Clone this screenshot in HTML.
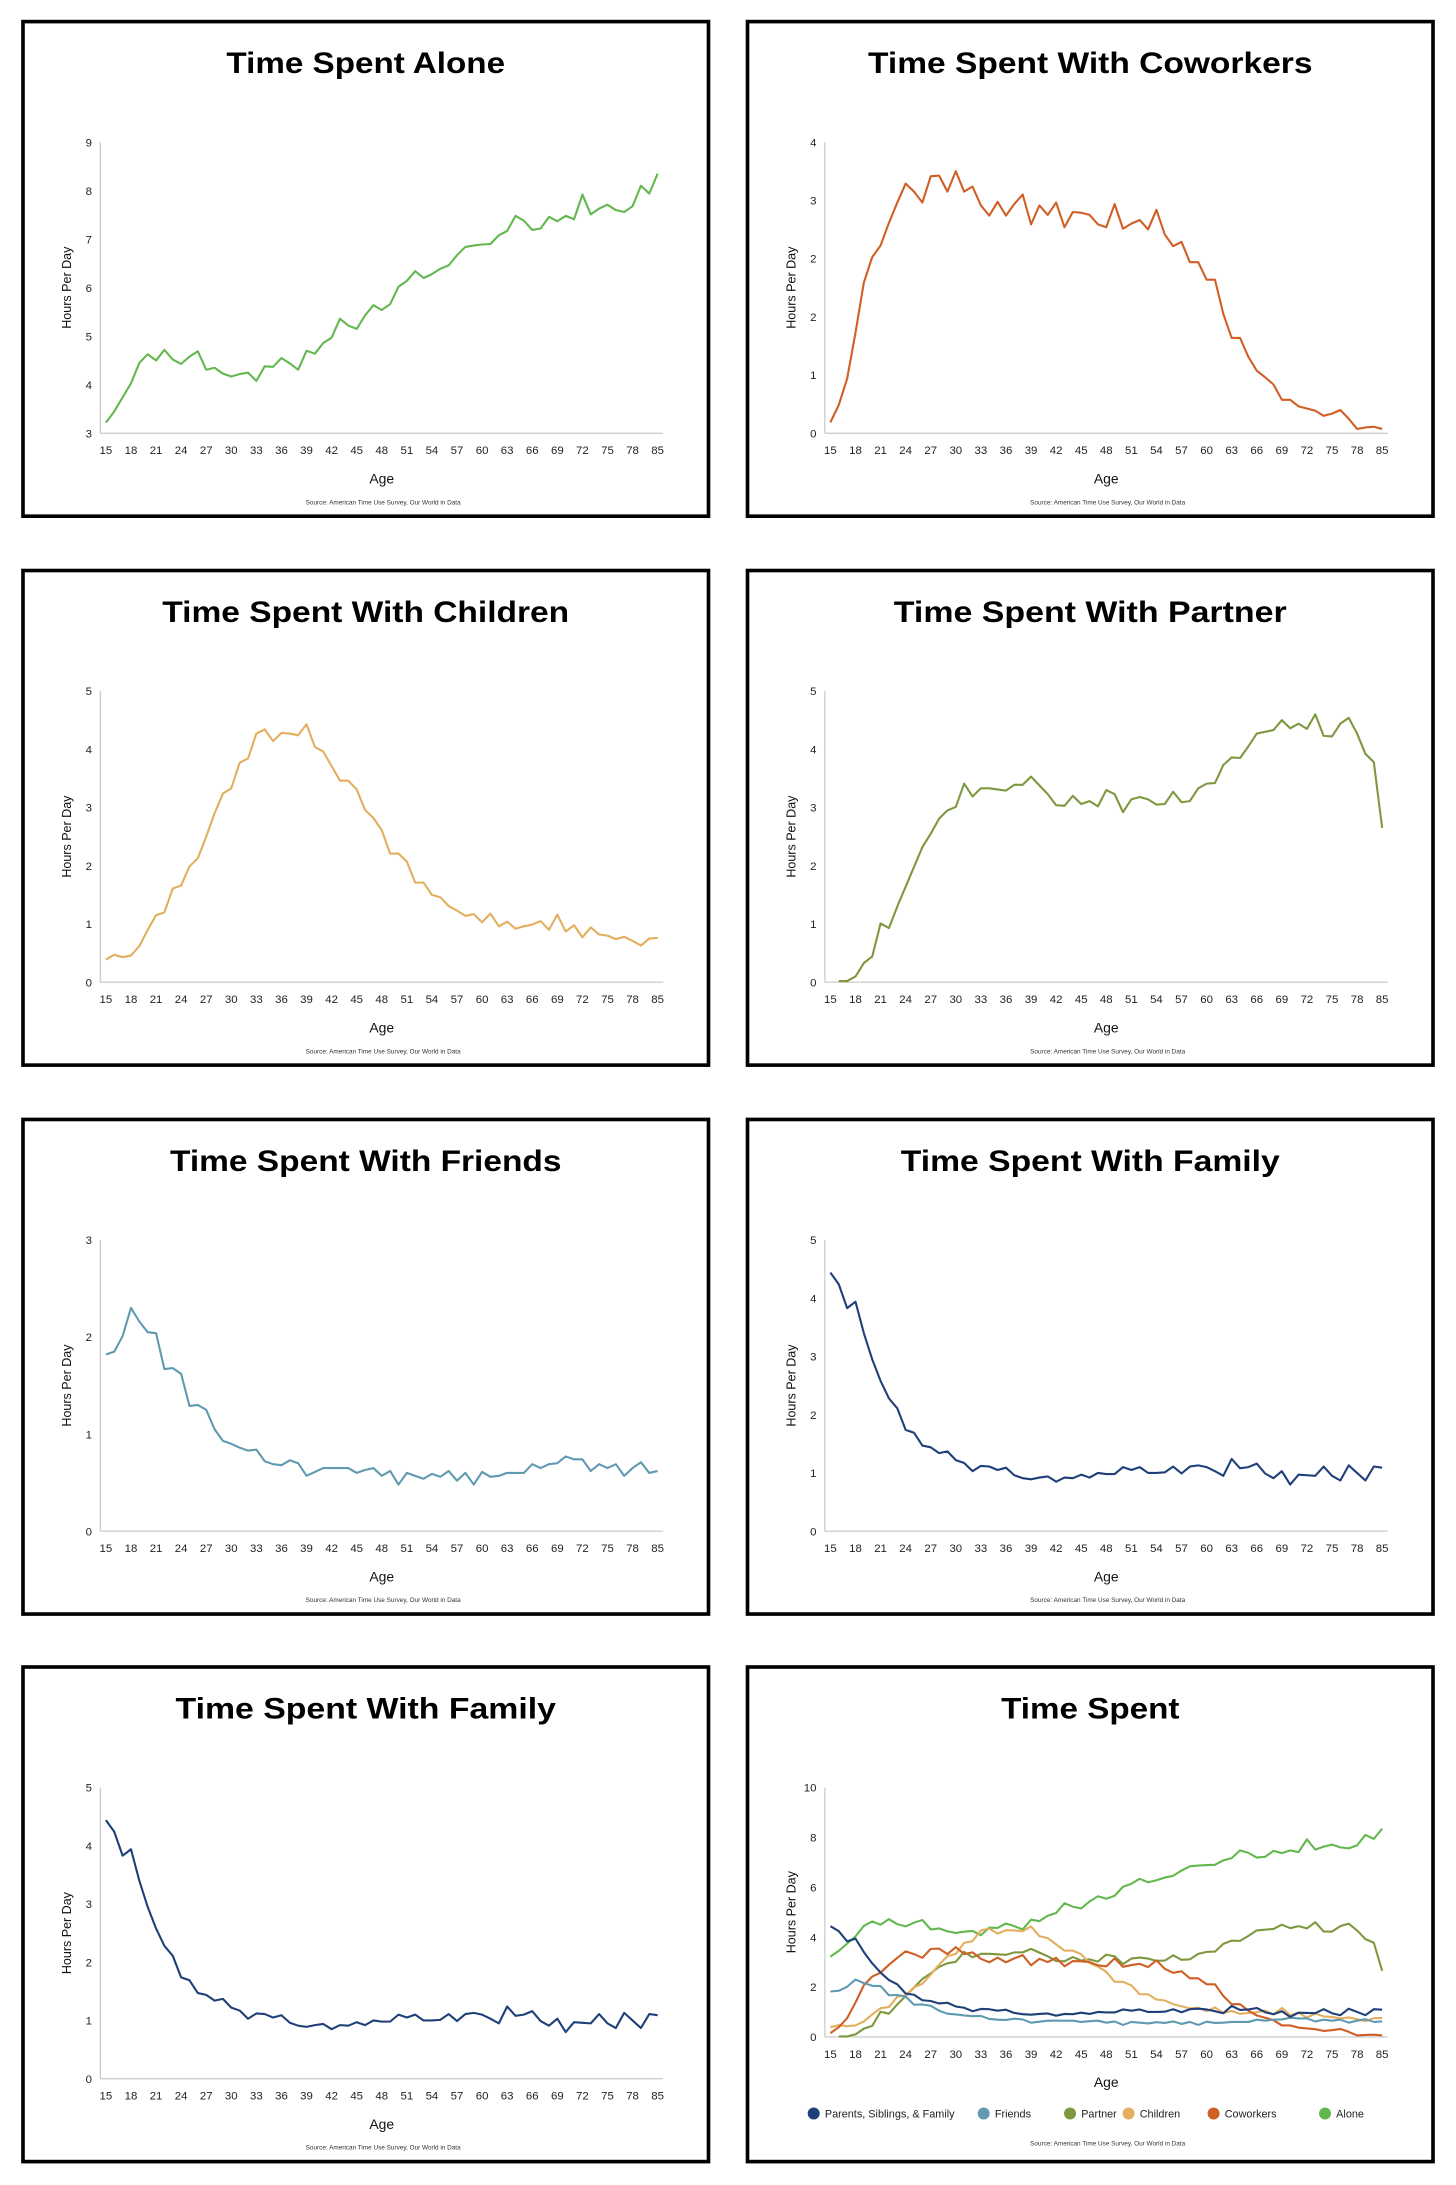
<!DOCTYPE html>
<html><head><meta charset="utf-8"><style>
html,body{margin:0;padding:0;background:#fff;}
svg{display:block;}
text{font-family:"Liberation Sans",Arial,sans-serif;}
</style></head><body>
<svg id="root" width="1456" height="2185" viewBox="0 0 1045 1568.3" preserveAspectRatio="none" xmlns="http://www.w3.org/2000/svg"></svg>
<script>
const categories=[];for(let a=15;a<=80;a++)categories.push(a);categories.push(85);
const tickEvery=3;
const aloneValues=[3.22,3.45,3.74,4.03,4.45,4.63,4.5,4.72,4.52,4.43,4.58,4.69,4.31,4.35,4.23,4.17,4.22,4.25,4.08,4.38,4.37,4.55,4.44,4.31,4.7,4.64,4.86,4.97,5.36,5.22,5.15,5.43,5.64,5.54,5.66,6.02,6.14,6.34,6.2,6.28,6.39,6.46,6.67,6.84,6.87,6.89,6.9,7.08,7.17,7.48,7.38,7.19,7.22,7.46,7.37,7.48,7.41,7.92,7.51,7.63,7.71,7.6,7.56,7.68,8.1,7.94,8.35];
const coworkerValues=[0.15,0.39,0.75,1.38,2.07,2.42,2.58,2.89,3.17,3.43,3.32,3.17,3.53,3.54,3.32,3.6,3.32,3.39,3.13,2.99,3.18,2.99,3.15,3.28,2.87,3.13,3.0,3.17,2.83,3.04,3.03,3.0,2.87,2.83,3.15,2.81,2.88,2.93,2.8,3.07,2.73,2.57,2.63,2.35,2.35,2.11,2.11,1.64,1.31,1.31,1.05,0.86,0.77,0.67,0.46,0.46,0.37,0.34,0.31,0.24,0.27,0.32,0.2,0.06,0.08,0.09,0.06];
const childrenValues=[0.39,0.47,0.43,0.46,0.62,0.9,1.15,1.2,1.61,1.66,1.99,2.13,2.5,2.9,3.24,3.33,3.77,3.84,4.27,4.34,4.14,4.28,4.27,4.24,4.43,4.04,3.96,3.71,3.46,3.46,3.31,2.96,2.82,2.61,2.21,2.21,2.07,1.71,1.71,1.5,1.46,1.31,1.23,1.14,1.17,1.03,1.18,0.96,1.04,0.92,0.96,0.99,1.05,0.9,1.16,0.87,0.98,0.77,0.94,0.82,0.8,0.74,0.78,0.71,0.63,0.75,0.76];
const partnerValues=[null,0.02,0.02,0.1,0.33,0.44,1.01,0.93,1.3,1.64,1.98,2.32,2.55,2.81,2.95,3.01,3.41,3.19,3.33,3.33,3.31,3.29,3.39,3.39,3.53,3.38,3.23,3.04,3.03,3.2,3.06,3.11,3.02,3.3,3.23,2.92,3.14,3.18,3.14,3.05,3.06,3.27,3.09,3.11,3.33,3.41,3.42,3.73,3.86,3.85,4.05,4.27,4.3,4.33,4.5,4.36,4.44,4.35,4.6,4.23,4.22,4.44,4.54,4.27,3.92,3.78,2.65];
const friendsValues=[1.82,1.85,2.01,2.3,2.16,2.05,2.04,1.67,1.68,1.62,1.29,1.3,1.25,1.05,0.93,0.9,0.86,0.83,0.84,0.72,0.69,0.68,0.73,0.7,0.57,0.61,0.65,0.65,0.65,0.65,0.6,0.63,0.65,0.57,0.62,0.48,0.6,0.57,0.54,0.59,0.56,0.62,0.52,0.6,0.48,0.61,0.56,0.57,0.6,0.6,0.6,0.69,0.65,0.69,0.7,0.77,0.74,0.74,0.62,0.69,0.65,0.69,0.57,0.65,0.71,0.6,0.62];
const familyValues=[4.44,4.24,3.83,3.94,3.4,2.95,2.58,2.28,2.11,1.74,1.69,1.47,1.44,1.34,1.37,1.22,1.17,1.03,1.12,1.11,1.05,1.09,0.96,0.91,0.89,0.92,0.94,0.85,0.92,0.91,0.97,0.92,1.0,0.98,0.98,1.1,1.05,1.1,1.0,1.0,1.01,1.11,0.99,1.11,1.13,1.1,1.03,0.95,1.24,1.08,1.1,1.16,0.99,0.91,1.03,0.8,0.97,0.96,0.95,1.11,0.95,0.87,1.13,1.0,0.87,1.11,1.09];
const aloneTicks=["3","4","5","6","7","8","9"];
const coworkerTicks=["0","1","2","2","3","4"];
const fiveTicks=["0","1","2","3","4","5"];
const friendsTicks=["0","1","2","3"];
const combinedTicks=["0","2","4","6","8","10"];
const legendLabels=["Parents, Siblings, & Family","Friends","Partner","Children","Coworkers","Alone"];

const C={alone:"#62b84f",cow:"#cf5f24",child:"#e3af5e",partner:"#7d983e",friends:"#5f9ab1",family:"#1f3f79"};
const NS="http://www.w3.org/2000/svg";
const root=document.getElementById('root');
function mk(tag,attrs,parent,txt){const e=document.createElementNS(NS,tag);for(const k in attrs)e.setAttribute(k,attrs[k]);if(txt!==undefined)e.textContent=txt;(parent||root).appendChild(e);return e;}

function panel(px,py,title,titleLen,ticks,ymin,ymax,series,name,combined){
  const g=mk('g',{transform:`translate(${px},${py})`});
  
  
  const box=mk('rect',{x:1.5,y:1.5,width:492,height:355,fill:'#fff',stroke:'#000','stroke-width':2.6},g);
  
  
  const t=mk('text',{x:247.5,y:38.5,'text-anchor':'middle','font-size':21.5,'font-weight':'bold',fill:'#000',textLength:titleLen,lengthAdjust:'spacingAndGlyphs'},g,title);
  
  
  const top=88,bot=combined?267:297,x0=61,x1=457;
  const ys=v=>bot-(v-ymin)/(ymax-ymin)*(bot-top);
  const xs=i=>x0+i*(x1-x0)/(categories.length-1);
  const ax=mk('line',{x1:57,y1:top,x2:57,y2:bot,stroke:'#cfcfcf','stroke-width':1},g);
  
  
  const bx=mk('line',{x1:57,y1:bot,x2:461,y2:bot,stroke:'#cfcfcf','stroke-width':1},g);
  
  
  ticks.forEach((lab,k)=>{
    const y=bot-k*(bot-top)/(ticks.length-1);
    const tl=mk('text',{x:51,y:y+3,'text-anchor':'end','font-size':8.2,fill:'#222'},g,lab);
    
    
  });
  categories.forEach((c,i)=>{
    if(i%tickEvery!==0)return;
    const tl=mk('text',{x:xs(i),y:bot+15,'text-anchor':'middle','font-size':8.2,fill:'#222'},g,String(c));
    
    
  });
  const yt=mk('text',{transform:`translate(36,${(top+bot)/2}) rotate(-90)`,'text-anchor':'middle','font-size':9,fill:'#111'},g,'Hours Per Day');
  
  
  const xt=mk('text',{x:259,y:bot+36,'text-anchor':'middle','font-size':10,fill:'#111'},g,'Age');
  
  
  const src=mk('text',{x:260,y:combined?345:348,'text-anchor':'middle','font-size':4.6,fill:'#333'},g,'Source: American Time Use Survey, Our World in Data');
  
  
  series.forEach(s=>{
    let d='';let pen=false;
    s.values.forEach((v,i)=>{if(v===null||v===undefined){pen=false;return;}d+=(pen?'L':'M')+xs(i).toFixed(2)+','+ys(v).toFixed(2);pen=true;});
    const p=mk('path',{d:d,fill:'none',stroke:s.color,'stroke-width':1.5,'stroke-linejoin':'round'},g);
    
    
  });
  if(combined){
    const lx=[49,171,233,275,336,416];
    const cols=[C.family,C.friends,C.partner,C.child,C.cow,C.alone];
    legendLabels.forEach((lab,k)=>{
      const lg=mk('g',{},g);
      
      
      mk('circle',{cx:lx[k],cy:322,r:4.3,fill:cols[k]},lg);
      mk('text',{x:lx[k]+8,y:325,'font-size':7.8,fill:'#222'},lg,lab);
    });
  }
}
const L=15,R=535,rows=[14,408,802,1195];
panel(L,rows[0],'Time Spent Alone',200,aloneTicks,3,9,[{values:aloneValues,color:C.alone,name:'alone-line'}],'alone-chart');
panel(R,rows[0],'Time Spent With Coworkers',319,coworkerTicks,0,4,[{values:coworkerValues,color:C.cow,name:'coworkers-line'}],'coworkers-chart');
panel(L,rows[1],'Time Spent With Children',292,fiveTicks,0,5,[{values:childrenValues,color:C.child,name:'children-line'}],'children-chart');
panel(R,rows[1],'Time Spent With Partner',282,fiveTicks,0,5,[{values:partnerValues,color:C.partner,name:'partner-line'}],'partner-chart');
panel(L,rows[2],'Time Spent With Friends',281,friendsTicks,0,3,[{values:friendsValues,color:C.friends,name:'friends-line'}],'friends-chart');
panel(R,rows[2],'Time Spent With Family',272,fiveTicks,0,5,[{values:familyValues,color:C.family,name:'family-line'}],'family-chart');
panel(L,rows[3],'Time Spent With Family',273,fiveTicks,0,5,[{values:familyValues,color:C.family,name:'family-line'}],'family-chart-2');
panel(R,rows[3],'Time Spent',128,combinedTicks,0,10,[
  {values:aloneValues,color:C.alone,name:'alone-line'},
  {values:partnerValues,color:C.partner,name:'partner-line'},
  {values:childrenValues,color:C.child,name:'children-line'},
  {values:coworkerValues,color:C.cow,name:'coworkers-line'},
  {values:friendsValues,color:C.friends,name:'friends-line'},
  {values:familyValues,color:C.family,name:'family-line'}
],'combined-chart',true);
</script>
</body></html>
